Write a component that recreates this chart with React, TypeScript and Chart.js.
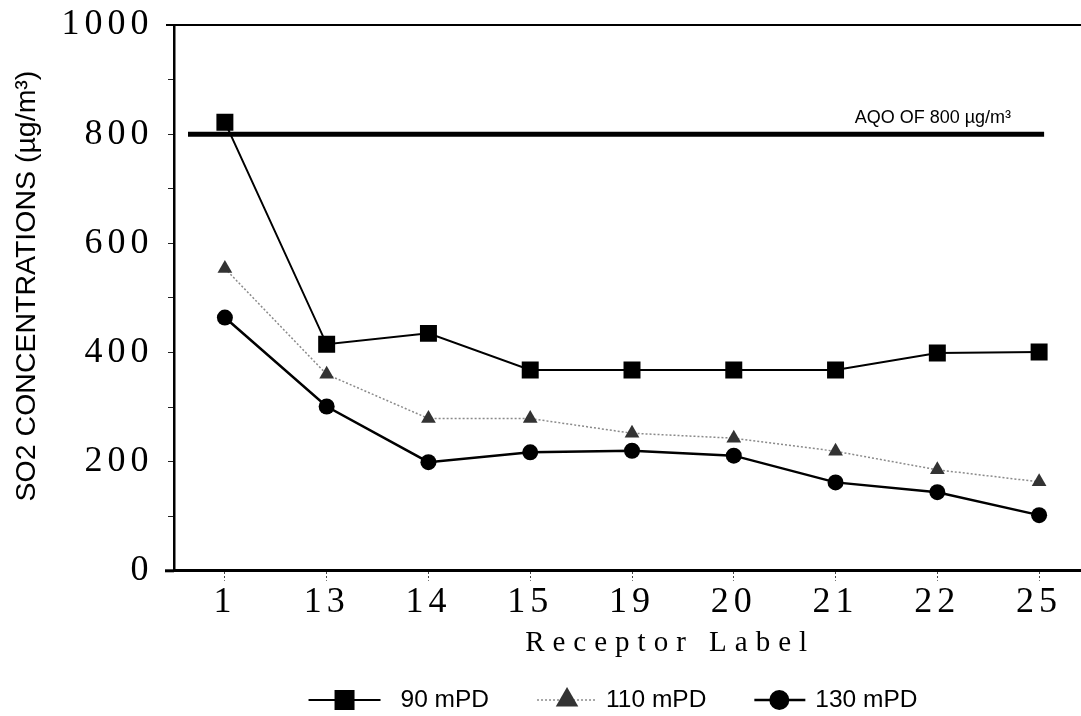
import React, { useEffect, useRef } from 'react';
import { Chart, registerables } from 'chart.js';

Chart.register(...registerables);

// ---------- data ----------
const RECEPTORS = ['1', '13', '14', '15', '19', '20', '21', '22', '25'];
const SERIES_LABELS = ['90 mPD', '110 mPD', '130 mPD'];
const SO2_90 = [822, 415, 435, 368, 368, 368, 368, 399, 401];
const SO2_110 = [554, 360, 279, 279, 252, 243, 219, 185, 163];
const SO2_130 = [464, 301, 199, 217, 220, 211, 162, 144, 102];
const AQO_LEVEL = 800;
const AQO_LABEL = 'AQO OF 800 µg/m³';
const Y_MIN = 0;
const Y_MAX = 1000;
const Y_MAJOR_STEP = 200;
const Y_MINOR_STEP = 100;
const X_TITLE = 'Receptor Label';
const Y_TITLE = 'SO2 CONCENTRATIONS (µg/m³)';

// ---------- styles ----------
const SERIF = "'Liberation Serif', 'Times New Roman', serif";
const SANS = "'Liberation Sans', Arial, sans-serif";

const LETTER_SPACING: Record<string, { labels?: string; title?: string }> = {
  x: { labels: '5px', title: '8px' },
  y: { labels: '5px' },
};

const LEGEND_ICONS = [
  { line: 72, marker: 36, gap: 20, size: 10 },
  { line: 60, marker: 30, gap: 9, size: 13 },
  { line: 51, marker: 25, gap: 10, size: 10 },
];
const LEGEND_ITEM_GAP = 48;
const LEGEND_SHIFT = -19;

function drawMarker(ctx: CanvasRenderingContext2D, style: string, x: number, y: number, r: number, color: string) {
  ctx.fillStyle = color;
  ctx.beginPath();
  if (style === 'rect') {
    ctx.rect(x - r, y - r, 2 * r, 2 * r);
  } else if (style === 'triangle') {
    ctx.moveTo(x, y - r);
    ctx.lineTo(x + r * Math.sin((2 * Math.PI) / 3), y + r * 0.5);
    ctx.lineTo(x - r * Math.sin((2 * Math.PI) / 3), y + r * 0.5);
    ctx.closePath();
  } else {
    ctx.arc(x, y, r, 0, Math.PI * 2);
  }
  ctx.fill();
}

const spacingPlugin = {
  id: 'letterSpacingAxes',
  beforeDraw(chart: any) {
    Object.keys(LETTER_SPACING).forEach((id) => {
      const s: any = chart.scales[id];
      if (!s || s.__spaced) return;
      const cfg = LETTER_SPACING[id];
      const wrap = (name: string, sp?: string) => {
        if (!sp) return;
        const orig = s[name];
        s[name] = function (...args: any[]) {
          const c = this.ctx;
          c.save();
          c.letterSpacing = sp;
          const r = orig.apply(this, args);
          c.restore();
          return r;
        };
      };
      wrap('drawLabels', cfg.labels);
      wrap('drawTitle', cfg.title);
      s.__spaced = true;
    });
  },
};

const overlayPlugin = {
  id: 'overlay',
  beforeDatasetsDraw(chart: any) {
    const { ctx, chartArea, scales } = chart;
    const xs = scales.x;
    const ys = scales.y;
    ctx.save();
    ctx.strokeStyle = '#000';
    // top frame line
    ctx.lineWidth = 2;
    ctx.beginPath();
    ctx.moveTo(chartArea.left - 8, chartArea.top);
    ctx.lineTo(chartArea.right, chartArea.top);
    ctx.stroke();
    // small extension of the x axis to the left
    ctx.lineWidth = 3;
    ctx.beginPath();
    ctx.moveTo(chartArea.left - 9, chartArea.bottom);
    ctx.lineTo(chartArea.left, chartArea.bottom);
    ctx.stroke();
    // AQO line
    const yA = ys.getPixelForValue(AQO_LEVEL);
    const xEnd = xs.getPixelForValue(RECEPTORS.length - 1) + 5;
    ctx.lineWidth = 5;
    ctx.beginPath();
    ctx.moveTo(chartArea.left + 14, yA);
    ctx.lineTo(xEnd, yA);
    ctx.stroke();
    ctx.font = `18px ${SANS}`;
    ctx.fillStyle = '#000';
    ctx.textAlign = 'right';
    ctx.textBaseline = 'alphabetic';
    ctx.fillText(AQO_LABEL, xEnd - 33, yA - 11);
    ctx.restore();
  },
  afterDraw(chart: any) {
    const { ctx, chartArea } = chart;
    const dsets = chart.data.datasets;
    ctx.save();
    ctx.font = `24.5px ${SANS}`;
    const widths = dsets.map((d: any) => ctx.measureText(d.label).width);
    let total = LEGEND_ITEM_GAP * (dsets.length - 1);
    dsets.forEach((_: any, i: number) => {
      total += LEGEND_ICONS[i].line + LEGEND_ICONS[i].gap + widths[i];
    });
    let x0 = (chartArea.left + chartArea.right) / 2 + LEGEND_SHIFT - total / 2;
    const yc = chart.height - 16;
    dsets.forEach((d: any, i: number) => {
      const ic = LEGEND_ICONS[i];
      ctx.strokeStyle = d.borderColor;
      ctx.lineWidth = d.borderWidth;
      ctx.setLineDash(d.borderDash || []);
      ctx.beginPath();
      ctx.moveTo(x0, yc);
      ctx.lineTo(x0 + ic.line, yc);
      ctx.stroke();
      ctx.setLineDash([]);
      drawMarker(ctx, d.pointStyle, x0 + ic.marker, yc, ic.size, d.pointBackgroundColor);
      ctx.fillStyle = '#000';
      ctx.textAlign = 'left';
      ctx.textBaseline = 'middle';
      ctx.fillText(d.label, x0 + ic.line + ic.gap, yc);
      x0 += ic.line + ic.gap + widths[i] + LEGEND_ITEM_GAP;
    });
    ctx.restore();
  },
};

export default function App() {
  const ref = useRef<HTMLCanvasElement>(null);

  useEffect(() => {
    const canvas = ref.current;
    if (!canvas) return;
    const chart = new Chart(canvas, {
      type: 'line',
      data: {
        labels: RECEPTORS,
        datasets: [
          {
            label: SERIES_LABELS[0],
            data: SO2_90,
            borderColor: '#000',
            borderWidth: 2,
            pointStyle: 'rect',
            pointRadius: 12,
            pointBackgroundColor: '#000',
            pointBorderWidth: 0,
            tension: 0,
          },
          {
            label: SERIES_LABELS[1],
            data: SO2_110,
            borderColor: '#8a8a8a',
            borderWidth: 1.5,
            borderDash: [2, 2],
            pointStyle: 'triangle',
            pointRadius: 8.5,
            pointBackgroundColor: '#333',
            pointBorderWidth: 0,
            tension: 0,
          },
          {
            label: SERIES_LABELS[2],
            data: SO2_130,
            borderColor: '#000',
            borderWidth: 2.5,
            pointStyle: 'circle',
            pointRadius: 8,
            pointBackgroundColor: '#000',
            pointBorderWidth: 0,
            tension: 0,
          },
        ],
      },
      options: {
        responsive: false,
        animation: false,
        devicePixelRatio: 1,
        layout: { autoPadding: false, padding: { top: 25, right: 0, bottom: 44, left: 0 } },
        plugins: {
          legend: { display: false },
          tooltip: { enabled: false },
        },
        scales: {
          x: {
            type: 'category',
            offset: true,
            afterFit: (scale: any) => {
              scale.paddingLeft = 0;
              scale.paddingRight = 0;
            },
            grid: {
              drawOnChartArea: false,
              drawTicks: true,
              tickLength: 10,
              tickColor: '#444',
              tickWidth: 1,
              tickBorderDash: [2, 2],
            },
            border: { display: true, color: '#000', width: 3 },
            ticks: {
              color: '#000',
              font: { family: SERIF, size: 36, lineHeight: 1 },
              padding: 3.5,
              maxRotation: 0,
              autoSkip: false,
            },
            title: {
              display: true,
              text: '     ' + X_TITLE,
              color: '#000',
              font: { family: SERIF, size: 29, lineHeight: 1.2 },
              padding: { top: 2.6, bottom: 10.8 },
            },
          },
          y: {
            min: Y_MIN,
            max: Y_MAX,
            afterFit: (scale: any) => {
              scale.width = 174;
              scale.paddingTop = 0;
              scale.paddingBottom = 0;
            },
            grid: {
              drawOnChartArea: false,
              drawTicks: true,
              tickLength: 6,
              tickColor: '#222',
              tickWidth: 1,
            },
            border: { display: true, color: '#000', width: 2.5 },
            ticks: {
              stepSize: Y_MINOR_STEP,
              autoSkip: false,
              color: '#000',
              font: { family: SERIF, size: 36, lineHeight: 1 },
              padding: 14.5,
              callback: (v: any) => (Number(v) % Y_MAJOR_STEP === 0 ? String(v) : ''),
            },
            title: {
              display: true,
              text: '   ' + Y_TITLE,
              color: '#000',
              font: { family: SANS, size: 28.5, lineHeight: 1.2 },
              padding: { top: 10, bottom: 0 },
            },
          },
        },
      },
      plugins: [spacingPlugin, overlayPlugin],
    } as any);
    return () => chart.destroy();
  }, []);

  return (
    <div
      style={{
        position: 'fixed',
        left: 0,
        top: 0,
        width: 1081,
        height: 716,
        overflow: 'hidden',
        background: '#fff',
      }}
    >
      <canvas ref={ref} width={1090} height={716} style={{ display: 'block' }} />
    </div>
  );
}
